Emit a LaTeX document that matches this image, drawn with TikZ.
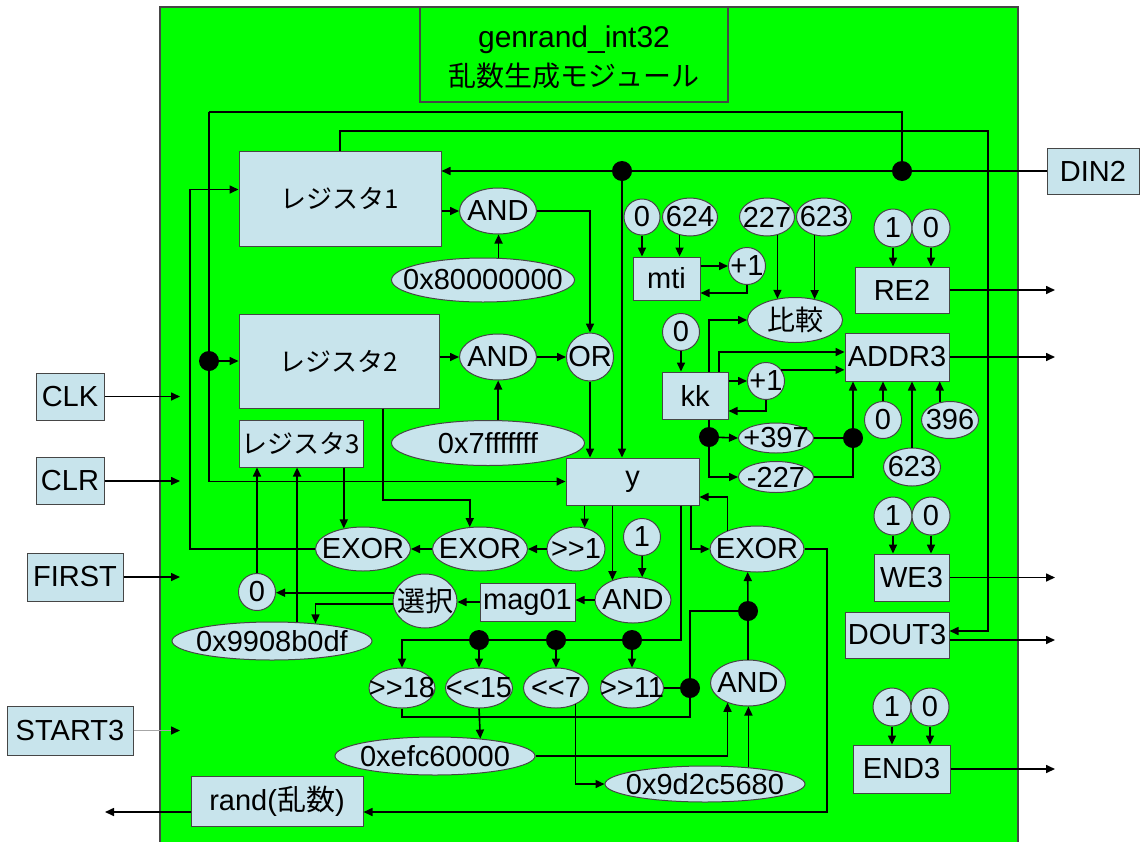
\documentclass[tikz,border=0pt]{standalone}
\usepackage{fontspec}
\setmainfont{Liberation Sans}
\newfontfamily\jp{Noto Sans CJK JP}
\usetikzlibrary{shapes.geometric,arrows.meta,calc}
\definecolor{grn}{RGB}{0,255,0}
\definecolor{boxc}{RGB}{200,228,236}
\definecolor{bord}{RGB}{70,70,70}
\newcommand{\T}[1]{\makebox[0pt]{#1}}
\newcommand{\J}{\jp\fontsize{26}{28}\selectfont}
\begin{document}
\begin{tikzpicture}[x=1pt,y=-1pt,
  every node/.style={font=\fontsize{29}{33}\selectfont, text=black},
  bx/.style={draw=bord, fill=boxc, line width=1pt, rectangle, inner sep=0},
  el/.style={draw=bord, fill=boxc, line width=1pt, ellipse, inner sep=0},
  ci/.style={draw=bord, fill=boxc, line width=1pt, circle, inner sep=0, minimum size=#1},
  ci/.default=37pt,
  dot/.style={circle, fill=black, inner sep=0, minimum size=20pt},
  wire/.style={line width=1.6pt, draw=black},
  arr/.style={wire, -{Triangle[length=9pt,width=8pt,color=black]}},
]
\useasboundingbox (0,0) rectangle (1140,841);
\fill[white] (0,0) rectangle (1140,841);
\draw[fill=grn, draw=bord, line width=1.2pt] (160,7) rectangle (1018,860);
\draw[draw=bord, line width=1.2pt] (420,7) rectangle (728,102);
\node (t1) at (574,40) {\fontsize{30}{32}\selectfont genrand\_int32};
\node (t2) at (574,76) {\jp\fontsize{28}{30}\selectfont 乱数生成モジュール};

% left block
\node[bx,minimum width=202pt,minimum height=95pt] (reg1) at (340,198.5) {\J レジスタ1};
\node[bx,minimum width=200pt,minimum height=94pt] (reg2) at (339,361) {\J レジスタ2};
\node[bx,minimum width=124pt,minimum height=47pt] (reg3) at (301,443.5) {\T{\J レジスタ3}};
\node[el,minimum width=77pt,minimum height=46pt] (and1) at (498,211) {\T{AND}};
\node[el,minimum width=183pt,minimum height=44pt] (k80) at (483,280) {\T{0x80000000}};
\node[el,minimum width=77pt,minimum height=46pt] (and2) at (498,357) {\T{AND}};
\node[el,minimum width=47pt,minimum height=48pt] (orn) at (590,357) {\T{OR}};
\node[el,minimum width=193pt,minimum height=45pt] (k7f) at (488,443) {\T{0x7fffffff}};
\node[bx,minimum width=133pt,minimum height=47pt] (ybox) at (632.5,481.5) {y};
\node[el,minimum width=95pt,minimum height=44pt] (exl) at (363,549) {\T{EXOR}};
\node[el,minimum width=95pt,minimum height=44pt] (exm) at (480,549) {\T{EXOR}};
\node[el,minimum width=58pt,minimum height=44pt] (sr1) at (576,549) {\T{>{}>1}};
\node[ci] (one1) at (642,537) {\T{1}};
\node[el,minimum width=76pt,minimum height=46pt] (and3) at (633,600) {\T{AND}};
\node[bx,minimum width=95pt,minimum height=38pt] (mag) at (527.5,602) {\T{mag01}};
\node[el,minimum width=64pt,minimum height=54pt] (sel) at (425,601) {\T{\jp\fontsize{28}{30}\selectfont 選択}};
\node[ci] (zero1) at (257,592) {\T{0}};
\node[el,minimum width=200pt,minimum height=38pt] (k99) at (272,641) {\T{0x9908b0df}};
\node[el,minimum width=94pt,minimum height=46pt] (exr) at (757,549) {\T{EXOR}};
\node[el,minimum width=66pt,minimum height=40pt] (sr18) at (402,688) {\T{>{}>18}};
\node[el,minimum width=67pt,minimum height=40pt] (sl15) at (479,688) {\T{<{}<15}};
\node[el,minimum width=65pt,minimum height=40pt] (sl7) at (556,688) {\T{<{}<7}};
\node[el,minimum width=63pt,minimum height=40pt] (sr11) at (632,688) {\T{>{}>11}};
\node[el,minimum width=75pt,minimum height=46pt] (and4) at (748,683) {\T{AND}};
\node[el,minimum width=200pt,minimum height=38pt] (kefc) at (435,756) {\T{0xefc60000}};
\node[el,minimum width=200pt,minimum height=36pt] (k9d) at (705,784) {\T{0x9d2c5680}};
\node[bx,minimum width=172pt,minimum height=50pt] (rand) at (277,801) {rand({\jp 乱数})};

% right block
\node[bx,minimum width=67pt,minimum height=43pt] (mti) at (666.5,278.5) {mti};
\node[ci=36pt] (z0a) at (642,217) {\T{0}};
\node[el,minimum width=55pt,minimum height=38pt] (k624) at (690,217) {\T{624}};
\node[ci] (p1a) at (747,266) {\T{+1}};
\node[el,minimum width=55pt,minimum height=38pt] (k227) at (767,217) {\T{227}};
\node[el,minimum width=55pt,minimum height=38pt] (k623a) at (824,217) {\T{623}};
\node[el,minimum width=95pt,minimum height=45pt] (cmp) at (795,320) {\T{\jp\fontsize{28}{30}\selectfont 比較}};
\node[ci] (z0b) at (681,332) {\T{0}};
\node[bx,minimum width=66pt,minimum height=47pt] (kk) at (695,395.5) {kk};
\node[ci] (p1b) at (766,381) {\T{+1}};
\node[el,minimum width=75pt,minimum height=30pt] (p397) at (776,438) {\T{+397}};
\node[el,minimum width=75pt,minimum height=31pt] (m227) at (776,477) {\T{-227}};
\node[bx,minimum width=104pt,minimum height=48pt] (addr) at (897,357) {ADDR3};
\node[ci] (z0c) at (883,420) {\T{0}};
\node[el,minimum width=57pt,minimum height=37pt] (k396) at (950,420) {\T{396}};
\node[el,minimum width=57pt,minimum height=38pt] (k623b) at (912,467) {\T{623}};
\node[bx,minimum width=94pt,minimum height=46pt] (re2) at (902,290) {RE2};
\node[ci=38pt] (o1re) at (893,228) {\T{1}};
\node[ci=38pt] (z0re) at (931,228) {\T{0}};
\node[bx,minimum width=75pt,minimum height=47pt] (we3) at (911.5,577.5) {WE3};
\node[ci=38pt] (o1we) at (893,516) {\T{1}};
\node[ci=38pt] (z0we) at (931,516) {\T{0}};
\node[bx,minimum width=104pt,minimum height=46pt] (dout) at (897,635) {DOUT3};
\node[bx,minimum width=97pt,minimum height=48pt] (end3) at (901.5,769) {END3};
\node[ci=38pt] (o1en) at (892,707) {\T{1}};
\node[ci=38pt] (z0en) at (930,707) {\T{0}};

% ports
\node[bx,minimum width=68pt,minimum height=47pt] (clk) at (70,396.5) {CLK};
\node[bx,minimum width=68pt,minimum height=47pt] (clr) at (70,481) {CLR};
\node[bx,minimum width=96pt,minimum height=48pt] (first) at (75,577) {FIRST};
\node[bx,minimum width=126pt,minimum height=49pt] (start) at (70,730.5) {START3};
\node[bx,minimum width=92pt,minimum height=46pt] (din2) at (1093,171) {DIN2};

% junction dots
\node[dot] (dA) at (622,171) {};
\node[dot] (dB) at (902,171) {};
\node[dot] (dC) at (209,361) {};
\node[dot] (dG) at (709,437) {};
\node[dot] (dH) at (853,438) {};
\node[dot] (d15) at (479,640) {};
\node[dot] (d7) at (556,640) {};
\node[dot] (d11) at (632,640) {};
\node[dot] (dE) at (690,688) {};
\node[dot] (dF) at (748,611) {};

\coordinate (tl) at (209,112);
\coordinate (tr) at (988,131);
\coordinate (lc) at (190,300);
\coordinate (r2c) at (430,500);
\coordinate (busR) at (681,640);
\coordinate (bl) at (402,717);
\coordinate (rc) at (827,700);
\coordinate (inX) at (180,0);
\coordinate (outX) at (1055,0);
\coordinate (randX) at (105,0);

% wires left
\draw[arr] (din2) -- (reg1.east |- din2.west);
\draw[arr] (dA) -- (dA |- ybox.north);
\draw[wire] (dB) |- (tl);
\draw[arr] (tl) |- (ybox.west);
\draw[arr] (dC) -- (reg2.west);
\draw[arr] (reg1.north) |- (tr) |- ([yshift=4pt]dout.east);
\draw[arr] (exl.west) -| (lc) |- ([yshift=9pt]reg1.west);
\draw[arr] (reg1.east |- and1.west) -- (and1.west);
\draw[arr] (k80.55) -- (k80.55 |- and1.south);
\draw[arr] (and1.east) -| (orn.north);
\draw[arr] (reg2.east |- and2.west) -- (and2.west);
\draw[arr] (and2) -- (orn);
\draw[arr] (k7f.66) -- (k7f.66 |- and2.south);
\draw[arr] (orn.south) -- (orn.south |- ybox.north);
\draw[arr] ([xshift=44pt]reg2.south) |- (r2c) -| (exm.115);
\draw[arr] (exl.133 |- reg3.south) -- (exl.133);
\draw[arr] (sr1.68 |- ybox.south) -- (sr1.68);
\draw[arr] (sr1) -- (exm);
\draw[arr] (exm) -- (exl);
\draw[arr] (and3.136 |- ybox.south) -- (and3.136);
\draw[arr] (one1) -- (and3.68);
\draw[arr] (and3.west) -- (and3.west -| mag.east);
\draw[arr] (mag.west) -- (mag.west -| sel.east);
\draw[arr] (sel.165) -- (sel.165 -| zero1.east);
\draw[arr] (sel.185) -| (k99.22);
\draw[arr] (zero1) -- (zero1.north |- reg3.south);
\draw[arr] (k99.37) -- (k99.37 |- reg3.south);
\draw[arr] ([xshift=58.5pt]ybox.south) |- (exr.west);
\draw[arr] (exr.148) |- ([yshift=-15.5pt]ybox.east);
\draw[arr] (exr.east) -| (rc) |- ([yshift=-11pt]rand.east);
\draw[arr] ([yshift=-11pt]rand.west) -- ([yshift=-11pt]rand.west -| randX);
\draw[arr] (busR |- ybox.south) -- (busR) -| (sr18.north);
\draw[arr] (d15) -- (sl15.north);
\draw[arr] (d7) -- (sl7.north);
\draw[arr] (d11) -- (sr11.north);
\draw[wire] (sr11) -- (dE);
\draw[wire] (sr18.south) -- (bl) -| (dE);
\draw[wire] (dE) |- (dF);
\draw[arr] (dF) -- (exr.248);
\draw[wire] (dF) -- (and4.north);
\draw[arr] (kefc.east) -| (and4.224);
\draw[arr] (k9d.21) -- (k9d.21 |- and4.south);
\draw[arr] (sl15.south) -- (kefc.21);
\draw[arr] (sl7.-40) |- (k9d.west);

% wires right
\draw[arr] (z0a) -- (z0a.south |- mti.north);
\draw[arr] (k624.240) -- (k624.240 |- mti.north);
\draw[arr] (p1a.west -| mti.east) -- (p1a.west);
\draw[arr] (p1a.south) |- ([yshift=-14.5pt]mti.east);
\draw[arr] (k227.-60) -- (k227.-60 |- cmp.131);
\draw[arr] (k623a.243) -- (k623a.243 |- cmp.46);
\draw[arr] (z0b) -- (z0b.south |- kk.north);
\draw[arr] ([xshift=14pt]kk.north) |- (cmp.west);
\draw[arr] ([xshift=24pt]kk.north) |- ([yshift=5pt]addr.west);
\draw[arr] (p1b.west -| kk.east) -- (p1b.west);
\draw[arr] (p1b.south) |- ([yshift=-15.5pt]kk.east);
\draw[arr] (p1b.36) -- (p1b.36 -| addr.west);
\draw[wire] ([xshift=14pt]kk.south) -- (dG);
\draw[arr] (dG) |- (m227.west);
\draw[arr] (dG) -- (p397.west);
\draw[wire] (p397.east) -- (dH);
\draw[wire] (m227.east) -| (dH);
\draw[arr] (dH) -- (dH |- addr.south);
\draw[arr] (z0c) -- (z0c.north |- addr.south);
\draw[arr] (k623b) -- (k623b.north |- addr.south);
\draw[arr] (k396.120) -- (k396.120 |- addr.south);
\draw[arr] (addr.east) -- (addr.east -| outX);
\draw[arr] (o1re) -- (o1re.south |- re2.north);
\draw[arr] (z0re) -- (z0re.south |- re2.north);
\draw[arr] (re2.east) -- (re2.east -| outX);
\draw[arr] (o1we) -- (o1we.south |- we3.north);
\draw[arr] (z0we) -- (z0we.south |- we3.north);
\draw[arr] (we3.east) -- (we3.east -| outX);
\draw[arr] ([yshift=-5pt]dout.east) -- ([yshift=-5pt]dout.east -| outX);
\draw[arr] (o1en) -- (o1en.south |- end3.north);
\draw[arr] (z0en) -- (z0en.south |- end3.north);
\draw[arr] (end3.east) -- (end3.east -| outX);

% inputs
\draw[arr] (clk.east) -- (clk.east -| inX);
\draw[arr] (clr.east) -- (clr.east -| inX);
\draw[arr] (first.east) -- (first.east -| inX);
\draw[arr, draw=gray!70] (start.east) -- (start.east -| inX);
\end{tikzpicture}
\end{document}
